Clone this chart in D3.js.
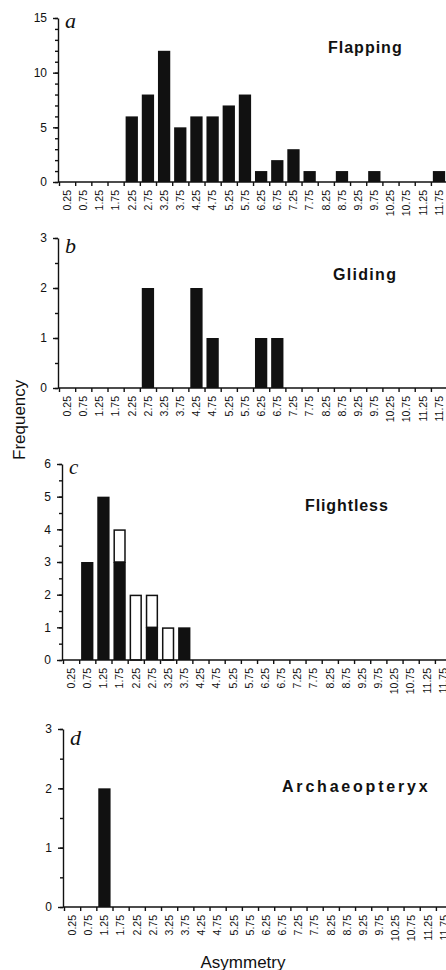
<!DOCTYPE html>
<html>
<head>
<meta charset="utf-8">
<script src="https://cdn.jsdelivr.net/npm/d3@7"></script>
<style>
  html, body { margin: 0; padding: 0; background: #fff; }
  svg { display: block; }
  text { font-family: 'Liberation Sans', Arial, Helvetica, sans-serif; fill: #111; }
</style>
</head>
<body>
<svg id="chart" width="446" height="970"></svg>
<script>
// asymmetry classes (bin centres)
var categories = ['0.25', '0.75', '1.25', '1.75', '2.25', '2.75', '3.25', '3.75',
  '4.25', '4.75', '5.25', '5.75', '6.25', '6.75', '7.25', '7.75',
  '8.25', '8.75', '9.25', '9.75', '10.25', '10.75', '11.25', '11.75']

var flapping = [0, 0, 0, 0, 6, 8, 12, 5, 6, 6, 7, 8, 1, 2, 3, 1, 0, 1, 0, 1, 0, 0, 0, 1]
var gliding = [0, 0, 0, 0, 0, 2, 0, 0, 2, 1, 0, 0, 1, 1, 0, 0, 0, 0, 0, 0, 0, 0, 0, 0]
var flightlessSolid = [0, 3, 5, 3, 0, 1, 0, 1, 0, 0, 0, 0, 0, 0, 0, 0, 0, 0, 0, 0, 0, 0, 0, 0]
var flightlessOpen = [0, 0, 0, 1, 2, 1, 1, 0, 0, 0, 0, 0, 0, 0, 0, 0, 0, 0, 0, 0, 0, 0, 0, 0]
var archaeopteryx = [0, 0, 2, 0, 0, 0, 0, 0, 0, 0, 0, 0, 0, 0, 0, 0, 0, 0, 0, 0, 0, 0, 0, 0]

var letters = ['a', 'b', 'c', 'd']
var titles = ['Flapping', 'Gliding', 'Flightless', 'Archaeopteryx']
var yMax = [15, 3, 6, 3]
var yMajor = [[0, 5, 10, 15], [0, 1, 2, 3], [0, 1, 2, 3, 4, 5, 6], [0, 1, 2, 3]]
var yMinorStep = [1, 0.5, 0.5, 0.5]

;(function () {
  var svg = d3.select('#chart')
  var ink = '#111'
  var step = 16.17

  // layout of the four stacked panels (pixel placement only)
  var layout = [
    {left: 59, top: 18, bottom: 182, letterDy: 10, letterSize: 22, titleX: 328, titleY: 53, spacing: 1},
    {left: 59, top: 238, bottom: 388, letterDy: 15, letterSize: 22, titleX: 333, titleY: 280, spacing: 1.3},
    {left: 63, top: 464, bottom: 660, letterDy: 10, letterSize: 21, titleX: 305, titleY: 511, spacing: 0.9},
    {left: 64, top: 729, bottom: 907, letterDy: 16, letterSize: 22, titleX: 282, titleY: 792, spacing: 2.8}
  ]

  var solidSeries = [flapping, gliding, flightlessSolid, archaeopteryx]
  var openSeries = [null, null, flightlessOpen, null]

  layout.forEach(function (L, p) {
    var g = svg.append('g').attr('class', 'panel panel-' + letters[p])
    var width = categories.length * step

    var x = d3.scaleBand()
        .domain(categories)
        .range([L.left, L.left + width])
        .paddingInner(0.24)
        .paddingOuter(0.12)
    // boundary positions between classes, for the x tick marks
    var xb = d3.scaleLinear()
        .domain([0, categories.length])
        .range([L.left, L.left + width])
    var y = d3.scaleLinear()
        .domain([0, yMax[p]])
        .range([L.bottom, L.top])

    var solid = solidSeries[p]
    var open = openSeries[p]

    // solid bars
    g.append('g').selectAll('rect.solid')
        .data(categories.map((c, i) => ({c: c, v: solid[i]})).filter(d => d.v > 0))
        .enter().append('rect')
        .attr('class', 'solid')
        .attr('x', d => x(d.c))
        .attr('width', x.bandwidth())
        .attr('y', d => y(d.v))
        .attr('height', d => y(0) - y(d.v))
        .style('fill', ink)

    // open bars stacked on top of the solid part
    if (open) {
      g.append('g').selectAll('rect.open')
          .data(categories.map((c, i) => ({c: c, base: solid[i], v: open[i]})).filter(d => d.v > 0))
          .enter().append('rect')
          .attr('class', 'open')
          .attr('x', d => x(d.c) + 0.75)
          .attr('width', x.bandwidth() - 1.5)
          .attr('y', d => y(d.base + d.v) + 0.75)
          .attr('height', d => y(d.base) - y(d.base + d.v) - 0.75)
          .style('fill', '#fff')
          .style('stroke', ink)
          .style('stroke-width', 1.5)
    }

    // x axis: boundary ticks
    var xTicks = g.append('g')
        .attr('transform', `translate(0, ${L.bottom})`)
        .call(d3.axisBottom(xb).tickValues(d3.range(categories.length + 1)).tickFormat('').tickSize(4).tickSizeOuter(0))
    xTicks.select('.domain').attr('d', `M${L.left - 1},0H${L.left + width}`)

    // x axis: rotated class labels
    var xLabels = g.append('g')
        .attr('transform', `translate(0, ${L.bottom})`)
        .call(d3.axisBottom(x).tickSize(0))
    xLabels.select('.domain').remove()
    xLabels.selectAll('text')
        .attr('transform', 'rotate(-90)')
        .attr('x', -8)
        .attr('y', 0)
        .attr('dy', '0.36em')
        .style('text-anchor', 'end')
        .style('font-size', '10.5px')

    // y axis: minor ticks
    g.append('g')
        .attr('transform', `translate(${L.left - 1}, 0)`)
        .call(d3.axisLeft(y).tickValues(d3.range(0, yMax[p] + 0.001, yMinorStep[p])).tickFormat('').tickSize(3).tickSizeOuter(0))
        .select('.domain').remove()

    // y axis: labelled ticks
    g.append('g')
        .attr('transform', `translate(${L.left - 1}, 0)`)
        .call(d3.axisLeft(y).tickValues(yMajor[p]).tickFormat(d3.format('d')).tickSize(5).tickPadding(6).tickSizeOuter(0))
        .selectAll('text')
        .style('font-size', '12px')

    // panel letter
    g.append('text')
        .attr('x', L.left + 6)
        .attr('y', L.top + L.letterDy)
        .style('font-family', "'Liberation Serif', 'Times New Roman', serif")
        .style('font-style', 'italic')
        .style('font-size', L.letterSize + 'px')
        .text(letters[p])

    // panel title
    g.append('text')
        .attr('x', L.titleX)
        .attr('y', L.titleY)
        .style('font-weight', 'bold')
        .style('font-size', '16px')
        .style('letter-spacing', L.spacing + 'px')
        .text(titles[p])
  })

  svg.selectAll('.domain, .tick line')
      .style('stroke', ink)
      .style('stroke-width', 1.4)

  // shared axis titles
  svg.append('text')
      .attr('transform', 'translate(25, 460) rotate(-90)')
      .style('font-size', '17px')
      .text('Frequency')

  svg.append('text')
      .attr('x', 243)
      .attr('y', 968)
      .style('text-anchor', 'middle')
      .style('font-size', '17px')
      .text('Asymmetry')
})()
</script>
</body>
</html>
